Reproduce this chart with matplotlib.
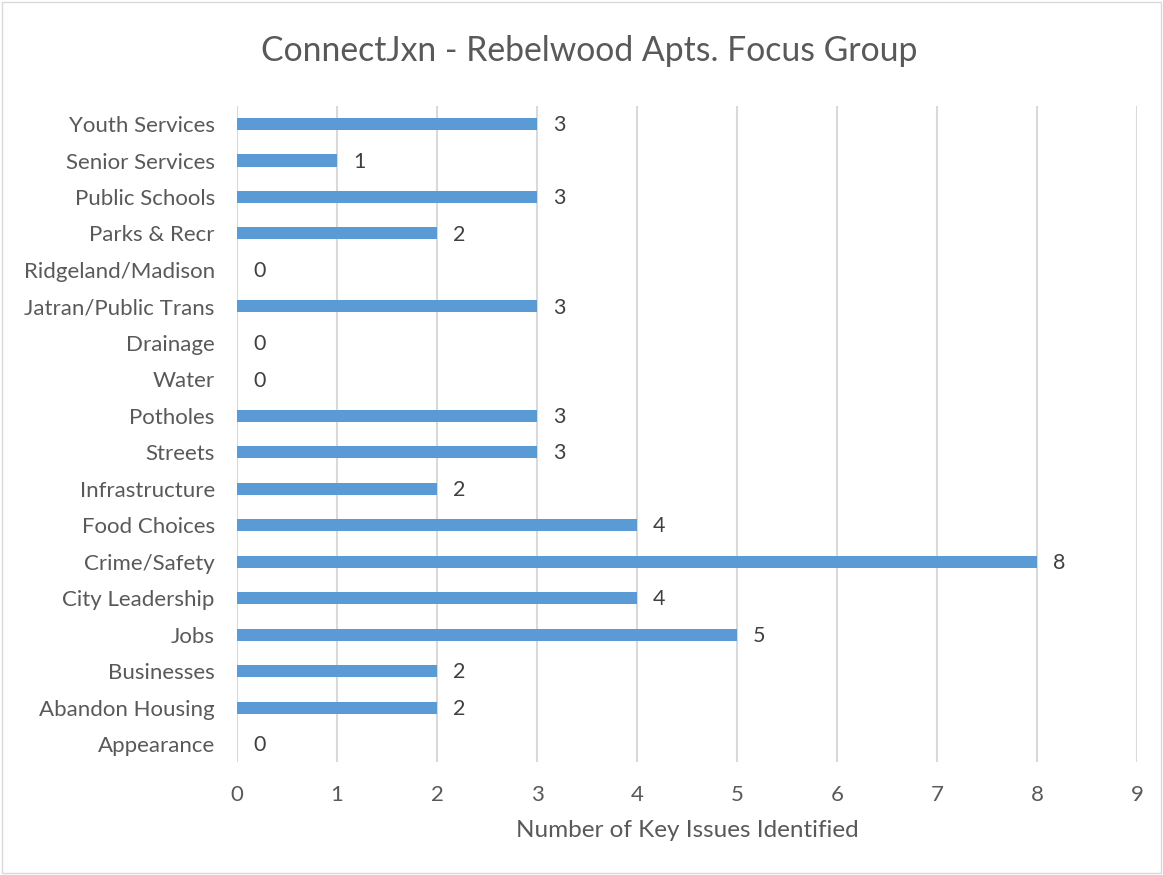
import matplotlib.pyplot as plt
from matplotlib.patches import Rectangle

# Data
categories = ['Youth Services', 'Senior Services', 'Public Schools', 'Parks & Recr',
              'Ridgeland/Madison', 'Jatran/Public Trans', 'Drainage', 'Water',
              'Potholes', 'Streets', 'Infrastructure', 'Food Choices', 'Crime/Safety',
              'City Leadership', 'Jobs', 'Businesses', 'Abandon Housing', 'Appearance']
values = [3, 1, 3, 2, 0, 3, 0, 0, 3, 3, 2, 4, 8, 4, 5, 2, 2, 0]

text_color = '#595959'
bar_color = '#5B9BD5'
grid_color = '#D9D9D9'

plt.rcParams['font.family'] = ['Lato', 'DejaVu Sans']

fig = plt.figure(figsize=(11.63, 8.75), dpi=100)
ax = fig.add_axes([0.2038, 0.1286, 0.7739, 0.7505])

ypos = list(range(len(categories)))
ax.barh(ypos, values, height=0.33, color=bar_color, zorder=3)

for y, v in zip(ypos, values):
    ax.text(v + 0.16, y + 0.03, str(v), va='center', ha='left', fontsize=15.5, color='#404040')

ax.set_xlim(0, 9)
ax.set_ylim(len(categories) - 0.5, -0.5)
ax.set_yticks(ypos)
ax.set_yticklabels(categories)
ax.set_xticks(range(10))

ax.grid(axis='x', color=grid_color, linewidth=1.5, zorder=0)
for s in ax.spines.values():
    s.set_visible(False)
ax.tick_params(axis='both', length=0, labelsize=16, colors=text_color)
ax.tick_params(axis='x', pad=16)
ax.tick_params(axis='y', pad=16)

ax.set_xlabel('Number of Key Issues Identified', fontsize=17.5, color=text_color, labelpad=11)
fig.text(0.507, 0.942, 'ConnectJxn - Rebelwood Apts. Focus Group', ha='center', va='center',
         fontsize=24.3, color=text_color)

fig.patches.append(Rectangle((0.002, 0.002), 0.996, 0.996, transform=fig.transFigure,
                             fill=False, edgecolor=grid_color, linewidth=1))

fig.savefig('out.png', dpi=100)
